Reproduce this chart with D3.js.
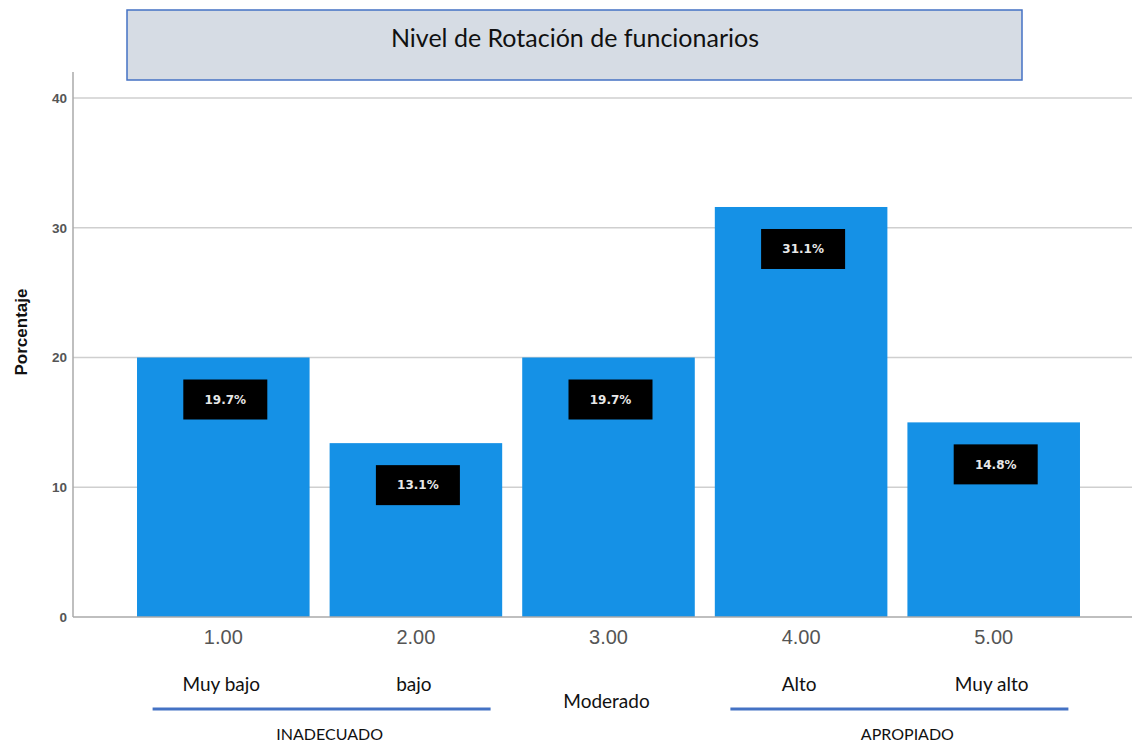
<!DOCTYPE html>
<html lang="es">
	<head>
		<meta charset="UTF-8" />
		<title>Nivel de Rotación de funcionarios</title>
		<script src="https://d3js.org/d3.v7.min.js"></script>
		<style>
			body {
				margin: 0;
				padding: 0;
				background: #fff;
			}
			.tick-y {
				font-family: "Liberation Sans", Arial, sans-serif;
				font-size: 13.5px;
				fill: #555;
			}
			.tick-x {
				font-family: "Liberation Sans", Arial, sans-serif;
				font-size: 20px;
				fill: #555;
			}
			.note {
				font-family: Lato, "Open Sans", sans-serif;
				fill: #111;
			}
		</style>
	</head>
	<body>
		<svg width="1132" height="745"></svg>
		<script>
			// data
			const categories = ["1.00", "2.00", "3.00", "4.00", "5.00"];
			const barValues = [20.0, 13.4, 20.0, 31.6, 15.0];
			const valueLabels = ["19.7%", "13.1%", "19.7%", "31.1%", "14.8%"];
			const levelNames = ["Muy bajo", "bajo", "Moderado", "Alto", "Muy alto"];
			const yTicks = [0, 10, 20, 30, 40];
			const groupNames = ["INADECUADO", "APROPIADO"];
			const groupSpans = [["1.00", "2.00"], ["4.00", "5.00"]];

			const width = 1132;
			const height = 745;
			const axisX = 73;
			const barColor = "#1591e6";
			const lineBlue = "#4472c4";

			const svg = d3.select("svg").attr("width", width).attr("height", height);

			const x = d3
				.scaleBand()
				.domain(categories)
				.range([127, 1090])
				.paddingInner(0.104)
				.paddingOuter(0.052);

			const y = d3.scaleLinear().domain([0, 40]).range([617, 98]);

			// title box
			svg
				.append("rect")
				.attr("x", 127)
				.attr("y", 10)
				.attr("width", 895)
				.attr("height", 70)
				.attr("fill", "#d6dce4")
				.attr("stroke", lineBlue)
				.attr("stroke-width", 1.5);

			svg
				.append("text")
				.attr("class", "note")
				.attr("x", 575)
				.attr("y", 38)
				.attr("dy", "0.35em")
				.attr("text-anchor", "middle")
				.style("font-size", "25px")
				.text("Nivel de Rotación de funcionarios");

			// gridlines
			svg
				.append("g")
				.selectAll("line")
				.data(yTicks.filter((d) => d > 0))
				.join("line")
				.attr("x1", axisX)
				.attr("x2", width)
				.attr("y1", (d) => y(d))
				.attr("y2", (d) => y(d))
				.attr("stroke", "#cfcfcf")
				.attr("stroke-width", 1.5);

			// y axis
			const yAxis = svg
				.append("g")
				.attr("transform", `translate(${axisX},0)`)
				.call(d3.axisLeft(y).tickValues(yTicks).tickSize(0).tickPadding(6));
			yAxis.select(".domain").remove();
			yAxis
				.selectAll("text")
				.attr("class", "tick-y")
				.attr("fill", null)
				.attr("font-family", null)
				.attr("font-size", null)
				.style("font-weight", "bold");

			svg
				.append("line")
				.attr("x1", axisX)
				.attr("x2", axisX)
				.attr("y1", y(42))
				.attr("y2", y(0))
				.attr("stroke", "#aaa")
				.attr("stroke-width", 1.5);

			svg
				.append("text")
				.attr("transform", `translate(21,332) rotate(-90)`)
				.attr("text-anchor", "middle")
				.attr("dy", "0.35em")
				.style("font-family", "'Liberation Sans', Arial, sans-serif")
				.style("font-size", "17px")
				.style("font-weight", "bold")
				.style("fill", "#111")
				.text("Porcentaje");

			// bars
			svg
				.append("g")
				.selectAll("rect")
				.data(categories)
				.join("rect")
				.attr("x", (d) => x(d))
				.attr("width", x.bandwidth())
				.attr("y", (d, i) => y(barValues[i]))
				.attr("height", (d, i) => y(0) - y(barValues[i]))
				.attr("fill", barColor);

			// x axis line
			svg
				.append("line")
				.attr("x1", axisX)
				.attr("x2", width)
				.attr("y1", y(0))
				.attr("y2", y(0))
				.attr("stroke", "#aaa")
				.attr("stroke-width", 1.5);

			// value label boxes
			const boxW = 84;
			const boxH = 40;
			const labels = svg
				.append("g")
				.selectAll("g")
				.data(categories)
				.join("g")
				.attr(
					"transform",
					(d, i) =>
						`translate(${x(d) + x.bandwidth() / 2 + 2},${y(barValues[i]) + 22})`
				);
			labels
				.append("rect")
				.attr("x", -boxW / 2)
				.attr("width", boxW)
				.attr("height", boxH)
				.attr("fill", "#000");
			labels
				.append("text")
				.attr("y", boxH / 2)
				.attr("dy", "0.35em")
				.attr("text-anchor", "middle")
				.style("font-family", "'DejaVu Sans', sans-serif")
				.style("font-size", "12px")
				.style("font-weight", "bold")
				.style("fill", "#e8e8e8")
				.text((d, i) => valueLabels[i]);

			// x tick labels
			const xAxis = svg
				.append("g")
				.attr("transform", `translate(0,${y(0)})`)
				.call(d3.axisBottom(x).tickSize(0).tickPadding(13));
			xAxis.select(".domain").remove();
			xAxis
				.selectAll("text")
				.attr("class", "tick-x")
				.attr("fill", null)
				.attr("font-family", null)
				.attr("font-size", null);

			// level names under the axis
			const grouped = groupSpans.flat();
			svg
				.append("g")
				.selectAll("text")
				.data(categories)
				.join("text")
				.attr("class", "note")
				.attr("x", (d) => x(d) + x.bandwidth() / 2 - 2)
				.attr("y", (d) => (grouped.includes(d) ? 684 : 701))
				.attr("dy", "0.35em")
				.attr("text-anchor", "middle")
				.style("font-size", "19px")
				.text((d, i) => levelNames[i]);

			// group lines and names
			const groupCenter = (i) =>
				(x(groupSpans[i][0]) + x(groupSpans[i][1]) + x.bandwidth()) / 2;
			const groups = svg
				.append("g")
				.selectAll("g")
				.data(groupNames)
				.join("g");
			groups
				.append("line")
				.attr("x1", (d, i) => groupCenter(i) + 2 - 169)
				.attr("x2", (d, i) => groupCenter(i) + 2 + 169)
				.attr("y1", 709)
				.attr("y2", 709)
				.attr("stroke", lineBlue)
				.attr("stroke-width", 3);
			groups
				.append("text")
				.attr("class", "note")
				.attr("x", (d, i) => groupCenter(i) + 10)
				.attr("y", 734)
				.attr("dy", "0.35em")
				.attr("text-anchor", "middle")
				.style("font-size", "16px")
				.text((d) => d);
		</script>
	</body>
</html>
